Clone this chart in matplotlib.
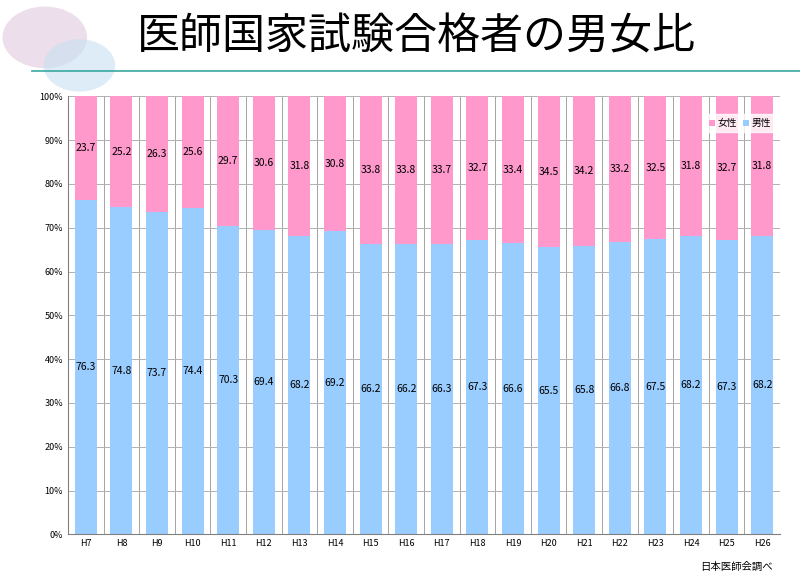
import numpy as np
import matplotlib
matplotlib.use('Agg')
import matplotlib.pyplot as plt
from matplotlib.patches import Circle

plt.rcParams['font.family'] = ['Noto Sans CJK JP', 'DejaVu Sans']

years = ['H7', 'H8', 'H9', 'H10', 'H11', 'H12', 'H13', 'H14', 'H15', 'H16',
         'H17', 'H18', 'H19', 'H20', 'H21', 'H22', 'H23', 'H24', 'H25', 'H26']
male = [76.3, 74.8, 73.7, 74.4, 70.3, 69.4, 68.2, 69.2, 66.2, 66.2,
        66.3, 67.3, 66.6, 65.5, 65.8, 66.8, 67.5, 68.2, 67.3, 68.2]
female = [23.7, 25.2, 26.3, 25.6, 29.7, 30.6, 31.8, 30.8, 33.8, 33.8,
          33.7, 32.7, 33.4, 34.5, 34.2, 33.2, 32.5, 31.8, 32.7, 31.8]

male_c = '#99ccff'
female_c = '#ff99cc'

fig = plt.figure(figsize=(8, 5.84), dpi=100)

# decoration, title and rule
deco = fig.add_axes([0, 0.84, 0.16, 0.16])
deco.set_xlim(0, 1)
deco.set_ylim(0, 1)
deco.axis('off')
deco.add_patch(Circle((0.35, 0.6), 0.33, color='#e0c8dc', alpha=0.6, lw=0))
deco.add_patch(Circle((0.62, 0.3), 0.28, color='#c8e0f2', alpha=0.6, lw=0))
fig.text(0.52, 0.935, '医師国家試験合格者の男女比', ha='center', va='center', fontsize=31)
fig.add_artist(plt.Line2D([0.04, 1.0], [0.878, 0.878], color='#3aa8a0', lw=1.2))
fig.text(0.875, 0.03, '日本医師会調べ', ha='left', va='center', fontsize=7.5)

ax = fig.add_axes([0.085, 0.085, 0.89, 0.75])
x = np.arange(len(years))
m = np.array(male)
f = np.array(female)
tot = m + f
mh = m / tot * 100
fh = f / tot * 100

ax.bar(x, mh, width=0.62, color=male_c, label='男性', zorder=2)
ax.bar(x, fh, bottom=mh, width=0.62, color=female_c, label='女性', zorder=2)
for i in range(len(years)):
    ax.text(x[i], mh[i] / 2, f'{male[i]:.1f}', ha='center', va='center', fontsize=7.5, zorder=3)
    ax.text(x[i], mh[i] + fh[i] / 2, f'{female[i]:.1f}', ha='center', va='center', fontsize=7.5, zorder=3)

ax.set_xlim(-0.5, len(years) - 0.5)
ax.set_ylim(0, 100)
ax.set_yticks(np.arange(0, 101, 10))
ax.set_yticklabels([f'{v}%' for v in range(0, 101, 10)], fontsize=6.5)
ax.set_xticks(x)
ax.set_xticklabels(years, fontsize=6.5)
ax.grid(axis='y', color='#b0b0b0', lw=0.7, zorder=0)
for b in x[:-1] + 0.5:
    ax.axvline(b, color='#808080', lw=0.5, zorder=1)
ax.tick_params(length=0)
for s in ['top', 'right']:
    ax.spines[s].set_visible(False)
ax.spines['left'].set_color('#808080')
ax.spines['bottom'].set_color('#808080')

h, l = ax.get_legend_handles_labels()
ax.legend(h[::-1], l[::-1], loc='upper right', bbox_to_anchor=(1.0, 0.97), ncol=2,
          fontsize=7, frameon=True, edgecolor='white', handlelength=0.6,
          handleheight=0.6, columnspacing=0.6, handletextpad=0.3)

fig.savefig('out.png')
